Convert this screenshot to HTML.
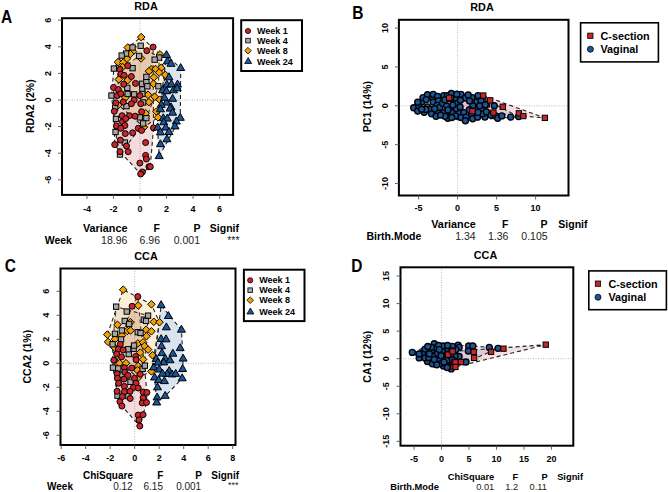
<!DOCTYPE html>
<html><head><meta charset="utf-8"><style>
html,body{margin:0;padding:0;background:#fff;width:668px;height:492px;overflow:hidden}
svg{display:block}
text{font-family:"Liberation Sans", sans-serif}
</style></head><body>
<svg width="668" height="492" viewBox="0 0 668 492">
<rect width="668" height="492" fill="#fff"/>
<line x1="140" y1="18.2" x2="140" y2="194.9" stroke="#aaa" stroke-width="0.8" stroke-dasharray="1,1.5"/>
<line x1="62" y1="100" x2="233.1" y2="100" stroke="#aaa" stroke-width="0.8" stroke-dasharray="1,1.5"/>
<path d="M113.5,87.5L120.0,69.4L146.8,50.7L153.1,47.1L153.5,127.9L150.3,166.7L140.7,174.0L120.0,151.7L114.7,144.6Z" fill="#B8242B" fill-opacity="0.16" stroke="#222" stroke-width="1.1" stroke-dasharray="4,3"/>
<path d="M111.5,95.6L113.9,68.6L121.7,55.6L132.6,47.5L140.7,45.8L159.2,57.6L158.4,86.3L146.4,118.2L143.2,123.5L120.0,154.6L115.6,132.0Z" fill="#9A9A9A" fill-opacity="0.16" stroke="#222" stroke-width="1.1" stroke-dasharray="4,3"/>
<path d="M118.0,62.1L127.7,47.5L141.2,37.1L160.0,54.4L165.3,74.9L158.0,117.4L144.0,127.1L118.4,105.0Z" fill="#F2A100" fill-opacity="0.16" stroke="#222" stroke-width="1.1" stroke-dasharray="4,3"/>
<path d="M157.6,127.7L166.5,55.2L180.7,68.2L180.3,118.0L159.2,156.3Z" fill="#1B5596" fill-opacity="0.16" stroke="#222" stroke-width="1.1" stroke-dasharray="4,3"/>
<path d="M141.2,33.3L145.0,37.1L141.2,40.9L137.4,37.1Z" fill="#F2A100" stroke="#000" stroke-width="1.0"/>
<path d="M127.7,43.7L131.5,47.5L127.7,51.3L123.9,47.5Z" fill="#F2A100" stroke="#000" stroke-width="1.0"/>
<path d="M133.0,47.7L136.8,51.5L133.0,55.3L129.2,51.5Z" fill="#F2A100" stroke="#000" stroke-width="1.0"/>
<path d="M130.2,50.2L134.0,54.0L130.2,57.8L126.4,54.0Z" fill="#F2A100" stroke="#000" stroke-width="1.0"/>
<path d="M126.9,55.0L130.7,58.8L126.9,62.6L123.1,58.8Z" fill="#F2A100" stroke="#000" stroke-width="1.0"/>
<path d="M118.0,58.3L121.8,62.1L118.0,65.9L114.2,62.1Z" fill="#F2A100" stroke="#000" stroke-width="1.0"/>
<path d="M123.3,58.7L127.1,62.5L123.3,66.3L119.5,62.5Z" fill="#F2A100" stroke="#000" stroke-width="1.0"/>
<path d="M141.1,54.6L144.9,58.4L141.1,62.2L137.3,58.4Z" fill="#F2A100" stroke="#000" stroke-width="1.0"/>
<path d="M122.5,63.2L126.3,67.0L122.5,70.8L118.7,67.0Z" fill="#F2A100" stroke="#000" stroke-width="1.0"/>
<path d="M160.0,50.6L163.8,54.4L160.0,58.2L156.2,54.4Z" fill="#F2A100" stroke="#000" stroke-width="1.0"/>
<path d="M161.2,64.0L165.0,67.8L161.2,71.6L157.4,67.8Z" fill="#F2A100" stroke="#000" stroke-width="1.0"/>
<path d="M151.1,65.6L154.9,69.4L151.1,73.2L147.3,69.4Z" fill="#F2A100" stroke="#000" stroke-width="1.0"/>
<path d="M155.6,65.2L159.4,69.0L155.6,72.8L151.8,69.0Z" fill="#F2A100" stroke="#000" stroke-width="1.0"/>
<path d="M118.8,75.6L122.6,79.4L118.8,83.2L115.0,79.4Z" fill="#F2A100" stroke="#000" stroke-width="1.0"/>
<path d="M127.7,76.4L131.5,80.2L127.7,84.0L123.9,80.2Z" fill="#F2A100" stroke="#000" stroke-width="1.0"/>
<path d="M148.9,67.4L152.7,71.2L148.9,75.0L145.1,71.2Z" fill="#F2A100" stroke="#000" stroke-width="1.0"/>
<path d="M148.0,91.0L151.8,94.8L148.0,98.6L144.2,94.8Z" fill="#F2A100" stroke="#000" stroke-width="1.0"/>
<path d="M125.3,93.9L129.1,97.7L125.3,101.5L121.5,97.7Z" fill="#F2A100" stroke="#000" stroke-width="1.0"/>
<path d="M118.4,101.2L122.2,105.0L118.4,108.8L114.6,105.0Z" fill="#F2A100" stroke="#000" stroke-width="1.0"/>
<path d="M148.9,98.3L152.7,102.1L148.9,105.9L145.1,102.1Z" fill="#F2A100" stroke="#000" stroke-width="1.0"/>
<path d="M159.2,68.7L163.0,72.5L159.2,76.3L155.4,72.5Z" fill="#F2A100" stroke="#000" stroke-width="1.0"/>
<path d="M153.9,73.5L157.7,77.3L153.9,81.1L150.1,77.3Z" fill="#F2A100" stroke="#000" stroke-width="1.0"/>
<path d="M165.3,71.1L169.1,74.9L165.3,78.7L161.5,74.9Z" fill="#F2A100" stroke="#000" stroke-width="1.0"/>
<path d="M153.5,80.0L157.3,83.8L153.5,87.6L149.7,83.8Z" fill="#F2A100" stroke="#000" stroke-width="1.0"/>
<path d="M154.7,93.0L158.5,96.8L154.7,100.6L150.9,96.8Z" fill="#F2A100" stroke="#000" stroke-width="1.0"/>
<path d="M159.6,95.9L163.4,99.7L159.6,103.5L155.8,99.7Z" fill="#F2A100" stroke="#000" stroke-width="1.0"/>
<path d="M145.6,109.5L149.4,113.3L145.6,117.1L141.8,113.3Z" fill="#F2A100" stroke="#000" stroke-width="1.0"/>
<path d="M144.0,123.3L147.8,127.1L144.0,130.9L140.2,127.1Z" fill="#F2A100" stroke="#000" stroke-width="1.0"/>
<path d="M156.4,107.9L160.2,111.7L156.4,115.5L152.6,111.7Z" fill="#F2A100" stroke="#000" stroke-width="1.0"/>
<path d="M158.0,113.6L161.8,117.4L158.0,121.2L154.2,117.4Z" fill="#F2A100" stroke="#000" stroke-width="1.0"/>
<rect x="138.0" y="43.1" width="5.316" height="5.316" fill="#A8A8A8" stroke="#000" stroke-width="1.0"/>
<rect x="129.9" y="44.8" width="5.316" height="5.316" fill="#A8A8A8" stroke="#000" stroke-width="1.0"/>
<rect x="123.4" y="50.9" width="5.316" height="5.316" fill="#A8A8A8" stroke="#000" stroke-width="1.0"/>
<rect x="119.0" y="52.9" width="5.316" height="5.316" fill="#A8A8A8" stroke="#000" stroke-width="1.0"/>
<rect x="136.4" y="53.3" width="5.316" height="5.316" fill="#A8A8A8" stroke="#000" stroke-width="1.0"/>
<rect x="111.2" y="65.9" width="5.316" height="5.316" fill="#A8A8A8" stroke="#000" stroke-width="1.0"/>
<rect x="129.9" y="65.5" width="5.316" height="5.316" fill="#A8A8A8" stroke="#000" stroke-width="1.0"/>
<rect x="156.5" y="54.9" width="5.316" height="5.316" fill="#A8A8A8" stroke="#000" stroke-width="1.0"/>
<rect x="152.0" y="57.0" width="5.316" height="5.316" fill="#A8A8A8" stroke="#000" stroke-width="1.0"/>
<rect x="139.3" y="81.1" width="5.316" height="5.316" fill="#A8A8A8" stroke="#000" stroke-width="1.0"/>
<rect x="143.7" y="74.2" width="5.316" height="5.316" fill="#A8A8A8" stroke="#000" stroke-width="1.0"/>
<rect x="143.7" y="79.5" width="5.316" height="5.316" fill="#A8A8A8" stroke="#000" stroke-width="1.0"/>
<rect x="124.6" y="85.2" width="5.316" height="5.316" fill="#A8A8A8" stroke="#000" stroke-width="1.0"/>
<rect x="139.7" y="86.8" width="5.316" height="5.316" fill="#A8A8A8" stroke="#000" stroke-width="1.0"/>
<rect x="108.8" y="92.9" width="5.316" height="5.316" fill="#A8A8A8" stroke="#000" stroke-width="1.0"/>
<rect x="125.0" y="91.3" width="5.316" height="5.316" fill="#A8A8A8" stroke="#000" stroke-width="1.0"/>
<rect x="131.5" y="91.7" width="5.316" height="5.316" fill="#A8A8A8" stroke="#000" stroke-width="1.0"/>
<rect x="139.7" y="91.3" width="5.316" height="5.316" fill="#A8A8A8" stroke="#000" stroke-width="1.0"/>
<rect x="140.5" y="99.8" width="5.316" height="5.316" fill="#A8A8A8" stroke="#000" stroke-width="1.0"/>
<rect x="123.8" y="103.5" width="5.316" height="5.316" fill="#A8A8A8" stroke="#000" stroke-width="1.0"/>
<rect x="155.7" y="83.6" width="5.316" height="5.316" fill="#A8A8A8" stroke="#000" stroke-width="1.0"/>
<rect x="144.7" y="83.6" width="5.316" height="5.316" fill="#A8A8A8" stroke="#000" stroke-width="1.0"/>
<rect x="112.5" y="104.9" width="5.316" height="5.316" fill="#A8A8A8" stroke="#000" stroke-width="1.0"/>
<rect x="137.2" y="114.7" width="5.316" height="5.316" fill="#A8A8A8" stroke="#000" stroke-width="1.0"/>
<rect x="143.7" y="115.5" width="5.316" height="5.316" fill="#A8A8A8" stroke="#000" stroke-width="1.0"/>
<rect x="113.3" y="116.3" width="5.316" height="5.316" fill="#A8A8A8" stroke="#000" stroke-width="1.0"/>
<rect x="112.9" y="129.3" width="5.316" height="5.316" fill="#A8A8A8" stroke="#000" stroke-width="1.0"/>
<rect x="140.5" y="120.8" width="5.316" height="5.316" fill="#A8A8A8" stroke="#000" stroke-width="1.0"/>
<rect x="122.2" y="139.9" width="5.316" height="5.316" fill="#A8A8A8" stroke="#000" stroke-width="1.0"/>
<rect x="117.3" y="151.9" width="5.316" height="5.316" fill="#A8A8A8" stroke="#000" stroke-width="1.0"/>
<circle cx="146.8" cy="50.7" r="3.0" fill="#C8262C" stroke="#000" stroke-width="1.0"/>
<circle cx="127.7" cy="65.7" r="3.0" fill="#C8262C" stroke="#000" stroke-width="1.0"/>
<circle cx="120.0" cy="69.4" r="3.0" fill="#C8262C" stroke="#000" stroke-width="1.0"/>
<circle cx="153.1" cy="47.1" r="3.0" fill="#C8262C" stroke="#000" stroke-width="1.0"/>
<circle cx="120.8" cy="74.1" r="3.0" fill="#C8262C" stroke="#000" stroke-width="1.0"/>
<circle cx="124.1" cy="75.3" r="3.0" fill="#C8262C" stroke="#000" stroke-width="1.0"/>
<circle cx="131.4" cy="76.5" r="3.0" fill="#C8262C" stroke="#000" stroke-width="1.0"/>
<circle cx="135.5" cy="83.4" r="3.0" fill="#C8262C" stroke="#000" stroke-width="1.0"/>
<circle cx="123.7" cy="84.2" r="3.0" fill="#C8262C" stroke="#000" stroke-width="1.0"/>
<circle cx="113.5" cy="87.5" r="3.0" fill="#C8262C" stroke="#000" stroke-width="1.0"/>
<circle cx="118.4" cy="89.5" r="3.0" fill="#C8262C" stroke="#000" stroke-width="1.0"/>
<circle cx="117.2" cy="95.6" r="3.0" fill="#C8262C" stroke="#000" stroke-width="1.0"/>
<circle cx="120.8" cy="93.6" r="3.0" fill="#C8262C" stroke="#000" stroke-width="1.0"/>
<circle cx="139.9" cy="95.6" r="3.0" fill="#C8262C" stroke="#000" stroke-width="1.0"/>
<circle cx="123.3" cy="102.1" r="3.0" fill="#C8262C" stroke="#000" stroke-width="1.0"/>
<circle cx="116.0" cy="102.9" r="3.0" fill="#C8262C" stroke="#000" stroke-width="1.0"/>
<circle cx="134.2" cy="100.1" r="3.0" fill="#C8262C" stroke="#000" stroke-width="1.0"/>
<circle cx="131.4" cy="103.7" r="3.0" fill="#C8262C" stroke="#000" stroke-width="1.0"/>
<circle cx="140.7" cy="103.7" r="3.0" fill="#C8262C" stroke="#000" stroke-width="1.0"/>
<circle cx="114.3" cy="111.3" r="3.0" fill="#C8262C" stroke="#000" stroke-width="1.0"/>
<circle cx="122.1" cy="115.7" r="3.0" fill="#C8262C" stroke="#000" stroke-width="1.0"/>
<circle cx="129.4" cy="115.7" r="3.0" fill="#C8262C" stroke="#000" stroke-width="1.0"/>
<circle cx="135.1" cy="116.2" r="3.0" fill="#C8262C" stroke="#000" stroke-width="1.0"/>
<circle cx="141.6" cy="111.7" r="3.0" fill="#C8262C" stroke="#000" stroke-width="1.0"/>
<circle cx="122.5" cy="121.8" r="3.0" fill="#C8262C" stroke="#000" stroke-width="1.0"/>
<circle cx="125.7" cy="118.6" r="3.0" fill="#C8262C" stroke="#000" stroke-width="1.0"/>
<circle cx="124.9" cy="125.5" r="3.0" fill="#C8262C" stroke="#000" stroke-width="1.0"/>
<circle cx="116.4" cy="125.9" r="3.0" fill="#C8262C" stroke="#000" stroke-width="1.0"/>
<circle cx="120.8" cy="128.3" r="3.0" fill="#C8262C" stroke="#000" stroke-width="1.0"/>
<circle cx="125.3" cy="133.6" r="3.0" fill="#C8262C" stroke="#000" stroke-width="1.0"/>
<circle cx="132.6" cy="132.8" r="3.0" fill="#C8262C" stroke="#000" stroke-width="1.0"/>
<circle cx="138.3" cy="128.3" r="3.0" fill="#C8262C" stroke="#000" stroke-width="1.0"/>
<circle cx="141.6" cy="130.4" r="3.0" fill="#C8262C" stroke="#000" stroke-width="1.0"/>
<circle cx="120.4" cy="140.1" r="3.0" fill="#C8262C" stroke="#000" stroke-width="1.0"/>
<circle cx="114.7" cy="144.6" r="3.0" fill="#C8262C" stroke="#000" stroke-width="1.0"/>
<circle cx="145.6" cy="142.6" r="3.0" fill="#C8262C" stroke="#000" stroke-width="1.0"/>
<circle cx="153.5" cy="127.9" r="3.0" fill="#C8262C" stroke="#000" stroke-width="1.0"/>
<circle cx="126.5" cy="146.0" r="3.0" fill="#C8262C" stroke="#000" stroke-width="1.0"/>
<circle cx="120.0" cy="151.7" r="3.0" fill="#C8262C" stroke="#000" stroke-width="1.0"/>
<circle cx="128.2" cy="151.7" r="3.0" fill="#C8262C" stroke="#000" stroke-width="1.0"/>
<circle cx="145.6" cy="155.4" r="3.0" fill="#C8262C" stroke="#000" stroke-width="1.0"/>
<circle cx="146.4" cy="159.0" r="3.0" fill="#C8262C" stroke="#000" stroke-width="1.0"/>
<circle cx="139.9" cy="163.1" r="3.0" fill="#C8262C" stroke="#000" stroke-width="1.0"/>
<circle cx="148.9" cy="166.7" r="3.0" fill="#C8262C" stroke="#000" stroke-width="1.0"/>
<circle cx="142.4" cy="172.0" r="3.0" fill="#C8262C" stroke="#000" stroke-width="1.0"/>
<circle cx="140.7" cy="174.0" r="3.0" fill="#C8262C" stroke="#000" stroke-width="1.0"/>
<circle cx="150.3" cy="166.7" r="3.0" fill="#C8262C" stroke="#000" stroke-width="1.0"/>
<path d="M166.5,50.6L170.5,57.5L162.5,57.5Z" fill="#1B5596" stroke="#000" stroke-width="1.0"/>
<path d="M167.3,56.9L171.3,63.8L163.3,63.8Z" fill="#1B5596" stroke="#000" stroke-width="1.0"/>
<path d="M171.0,59.4L175.0,66.3L167.0,66.3Z" fill="#1B5596" stroke="#000" stroke-width="1.0"/>
<path d="M180.7,63.6L184.7,70.5L176.7,70.5Z" fill="#1B5596" stroke="#000" stroke-width="1.0"/>
<path d="M169.0,72.8L173.0,79.8L165.0,79.8Z" fill="#1B5596" stroke="#000" stroke-width="1.0"/>
<path d="M166.9,80.2L170.9,87.2L162.9,87.2Z" fill="#1B5596" stroke="#000" stroke-width="1.0"/>
<path d="M171.4,79.8L175.4,86.8L167.4,86.8Z" fill="#1B5596" stroke="#000" stroke-width="1.0"/>
<path d="M177.5,80.1L181.5,87.1L173.5,87.1Z" fill="#1B5596" stroke="#000" stroke-width="1.0"/>
<path d="M162.5,85.8L166.5,92.8L158.5,92.8Z" fill="#1B5596" stroke="#000" stroke-width="1.0"/>
<path d="M166.5,86.8L170.5,93.7L162.5,93.7Z" fill="#1B5596" stroke="#000" stroke-width="1.0"/>
<path d="M173.4,85.8L177.4,92.8L169.4,92.8Z" fill="#1B5596" stroke="#000" stroke-width="1.0"/>
<path d="M177.1,83.8L181.1,90.8L173.1,90.8Z" fill="#1B5596" stroke="#000" stroke-width="1.0"/>
<path d="M172.6,94.3L176.6,101.3L168.6,101.3Z" fill="#1B5596" stroke="#000" stroke-width="1.0"/>
<path d="M166.5,98.1L170.5,105.1L162.5,105.1Z" fill="#1B5596" stroke="#000" stroke-width="1.0"/>
<path d="M161.2,100.4L165.2,107.4L157.2,107.4Z" fill="#1B5596" stroke="#000" stroke-width="1.0"/>
<path d="M171.0,102.8L175.0,109.8L167.0,109.8Z" fill="#1B5596" stroke="#000" stroke-width="1.0"/>
<path d="M164.5,93.3L168.5,100.3L160.5,100.3Z" fill="#1B5596" stroke="#000" stroke-width="1.0"/>
<path d="M160.4,104.8L164.4,111.8L156.4,111.8Z" fill="#1B5596" stroke="#000" stroke-width="1.0"/>
<path d="M170.2,104.1L174.2,111.1L166.2,111.1Z" fill="#1B5596" stroke="#000" stroke-width="1.0"/>
<path d="M172.6,108.2L176.6,115.2L168.6,115.2Z" fill="#1B5596" stroke="#000" stroke-width="1.0"/>
<path d="M180.3,113.3L184.3,120.3L176.3,120.3Z" fill="#1B5596" stroke="#000" stroke-width="1.0"/>
<path d="M163.3,113.8L167.3,120.7L159.3,120.7Z" fill="#1B5596" stroke="#000" stroke-width="1.0"/>
<path d="M167.3,114.1L171.3,121.1L163.3,121.1Z" fill="#1B5596" stroke="#000" stroke-width="1.0"/>
<path d="M176.3,117.0L180.3,124.0L172.3,124.0Z" fill="#1B5596" stroke="#000" stroke-width="1.0"/>
<path d="M163.7,117.8L167.7,124.8L159.7,124.8Z" fill="#1B5596" stroke="#000" stroke-width="1.0"/>
<path d="M157.6,123.0L161.6,130.0L153.6,130.0Z" fill="#1B5596" stroke="#000" stroke-width="1.0"/>
<path d="M165.7,123.1L169.7,130.1L161.7,130.1Z" fill="#1B5596" stroke="#000" stroke-width="1.0"/>
<path d="M175.0,121.9L179.0,128.9L171.0,128.9Z" fill="#1B5596" stroke="#000" stroke-width="1.0"/>
<path d="M160.4,127.9L164.4,134.9L156.4,134.9Z" fill="#1B5596" stroke="#000" stroke-width="1.0"/>
<path d="M169.0,127.5L173.0,134.5L165.0,134.5Z" fill="#1B5596" stroke="#000" stroke-width="1.0"/>
<path d="M166.9,134.8L170.9,141.8L162.9,141.8Z" fill="#1B5596" stroke="#000" stroke-width="1.0"/>
<path d="M160.4,139.8L164.4,146.7L156.4,146.7Z" fill="#1B5596" stroke="#000" stroke-width="1.0"/>
<path d="M159.2,151.7L163.2,158.6L155.2,158.6Z" fill="#1B5596" stroke="#000" stroke-width="1.0"/>
<rect x="62" y="18.2" width="171.1" height="176.70000000000002" fill="none" stroke="#000" stroke-width="2"/>
<line x1="86.92" y1="194.9" x2="86.92" y2="198.9" stroke="#555" stroke-width="0.9"/>
<text x="86.92" y="211.5" font-size="9" font-weight="bold" text-anchor="middle" fill="#000" >-4</text>
<line x1="113.46000000000001" y1="194.9" x2="113.46000000000001" y2="198.9" stroke="#555" stroke-width="0.9"/>
<text x="113.46000000000001" y="211.5" font-size="9" font-weight="bold" text-anchor="middle" fill="#000" >-2</text>
<line x1="140.0" y1="194.9" x2="140.0" y2="198.9" stroke="#555" stroke-width="0.9"/>
<text x="140.0" y="211.5" font-size="9" font-weight="bold" text-anchor="middle" fill="#000" >0</text>
<line x1="166.54" y1="194.9" x2="166.54" y2="198.9" stroke="#555" stroke-width="0.9"/>
<text x="166.54" y="211.5" font-size="9" font-weight="bold" text-anchor="middle" fill="#000" >2</text>
<line x1="193.07999999999998" y1="194.9" x2="193.07999999999998" y2="198.9" stroke="#555" stroke-width="0.9"/>
<text x="193.07999999999998" y="211.5" font-size="9" font-weight="bold" text-anchor="middle" fill="#000" >4</text>
<line x1="219.62" y1="194.9" x2="219.62" y2="198.9" stroke="#555" stroke-width="0.9"/>
<text x="219.62" y="211.5" font-size="9" font-weight="bold" text-anchor="middle" fill="#000" >6</text>
<line x1="58" y1="179.8" x2="62" y2="179.8" stroke="#555" stroke-width="0.9"/>
<text transform="translate(50.5,179.80) rotate(-90) scale(1,1.1)" font-size="9" font-weight="bold" text-anchor="middle">-6</text>
<line x1="58" y1="153.2" x2="62" y2="153.2" stroke="#555" stroke-width="0.9"/>
<text transform="translate(50.5,153.20) rotate(-90) scale(1,1.1)" font-size="9" font-weight="bold" text-anchor="middle">-4</text>
<line x1="58" y1="126.6" x2="62" y2="126.6" stroke="#555" stroke-width="0.9"/>
<text transform="translate(50.5,126.60) rotate(-90) scale(1,1.1)" font-size="9" font-weight="bold" text-anchor="middle">-2</text>
<line x1="58" y1="100.0" x2="62" y2="100.0" stroke="#555" stroke-width="0.9"/>
<text transform="translate(50.5,100.00) rotate(-90) scale(1,1.1)" font-size="9" font-weight="bold" text-anchor="middle">0</text>
<line x1="58" y1="73.4" x2="62" y2="73.4" stroke="#555" stroke-width="0.9"/>
<text transform="translate(50.5,73.40) rotate(-90) scale(1,1.1)" font-size="9" font-weight="bold" text-anchor="middle">2</text>
<line x1="58" y1="46.8" x2="62" y2="46.8" stroke="#555" stroke-width="0.9"/>
<text transform="translate(50.5,46.80) rotate(-90) scale(1,1.1)" font-size="9" font-weight="bold" text-anchor="middle">4</text>
<line x1="58" y1="20.19999999999999" x2="62" y2="20.19999999999999" stroke="#555" stroke-width="0.9"/>
<text transform="translate(50.5,20.20) rotate(-90) scale(1,1.1)" font-size="9" font-weight="bold" text-anchor="middle">6</text>
<text x="146" y="10.0" font-size="10.8" font-weight="bold" text-anchor="middle" fill="#000" >RDA</text>
<text transform="translate(33.5,106.2) rotate(-90)" font-size="10.5" font-weight="bold" text-anchor="middle" fill="#000" >RDA2 (2%)</text>
<text transform="translate(1.0,23.2) scale(0.86,1)" font-size="18" font-weight="bold">A</text>
<line x1="457.6" y1="19.8" x2="457.6" y2="195.5" stroke="#aaa" stroke-width="0.8" stroke-dasharray="1,1.5"/>
<line x1="398.9" y1="105.8" x2="568.5" y2="105.8" stroke="#aaa" stroke-width="0.8" stroke-dasharray="1,1.5"/>
<path d="M448.2,99.2L452.6,98.4L483.3,95.6L544.9,117.9L523.4,116.1L449.8,109.0Z" fill="#B8242B" fill-opacity="0.14" stroke="#222" stroke-width="1.1" stroke-dasharray="4,3"/>
<path d="M413.7,107.7L417.7,102.2L423.0,97.6L427.5,94.7L433.2,94.3L451.4,93.5L478.0,95.6L518.6,116.6L497.7,118.3L465.4,120.7L447.8,118.3L436.0,116.3L417.7,111.0Z" fill="#6A4C8C" fill-opacity="0.15" stroke="#222" stroke-width="1.1" stroke-dasharray="4,3"/>
<rect x="445.5" y="96.5" width="5.316" height="5.316" fill="#C8262C" stroke="#000" stroke-width="1.0"/>
<rect x="447.1" y="106.3" width="5.316" height="5.316" fill="#C8262C" stroke="#000" stroke-width="1.0"/>
<rect x="449.9" y="95.7" width="5.316" height="5.316" fill="#C8262C" stroke="#000" stroke-width="1.0"/>
<rect x="480.6" y="96.9" width="5.316" height="5.316" fill="#C8262C" stroke="#000" stroke-width="1.0"/>
<rect x="484.3" y="101.8" width="5.316" height="5.316" fill="#C8262C" stroke="#000" stroke-width="1.0"/>
<rect x="448.9" y="96.1" width="5.316" height="5.316" fill="#C8262C" stroke="#000" stroke-width="1.0"/>
<rect x="448.5" y="105.9" width="5.316" height="5.316" fill="#C8262C" stroke="#000" stroke-width="1.0"/>
<rect x="477.3" y="103.0" width="5.316" height="5.316" fill="#C8262C" stroke="#000" stroke-width="1.0"/>
<circle cx="413.7" cy="107.7" r="3.0" fill="#1B5596" stroke="#000" stroke-width="1.35"/>
<circle cx="417.7" cy="111.0" r="3.0" fill="#1B5596" stroke="#000" stroke-width="1.35"/>
<circle cx="421.8" cy="102.1" r="3.0" fill="#1B5596" stroke="#000" stroke-width="1.35"/>
<circle cx="423.0" cy="97.6" r="3.0" fill="#1B5596" stroke="#000" stroke-width="1.35"/>
<circle cx="424.2" cy="112.2" r="3.0" fill="#1B5596" stroke="#000" stroke-width="1.35"/>
<circle cx="427.5" cy="94.7" r="3.0" fill="#1B5596" stroke="#000" stroke-width="1.35"/>
<circle cx="427.5" cy="106.9" r="3.0" fill="#1B5596" stroke="#000" stroke-width="1.35"/>
<circle cx="430.3" cy="109.4" r="3.0" fill="#1B5596" stroke="#000" stroke-width="1.35"/>
<circle cx="432.7" cy="97.2" r="3.0" fill="#1B5596" stroke="#000" stroke-width="1.35"/>
<circle cx="433.2" cy="102.1" r="3.0" fill="#1B5596" stroke="#000" stroke-width="1.35"/>
<circle cx="433.2" cy="94.3" r="3.0" fill="#1B5596" stroke="#000" stroke-width="1.35"/>
<circle cx="431.5" cy="113.8" r="3.0" fill="#1B5596" stroke="#000" stroke-width="1.35"/>
<circle cx="437.6" cy="96.4" r="3.0" fill="#1B5596" stroke="#000" stroke-width="1.35"/>
<circle cx="438.4" cy="100.8" r="3.0" fill="#1B5596" stroke="#000" stroke-width="1.35"/>
<circle cx="437.2" cy="105.3" r="3.0" fill="#1B5596" stroke="#000" stroke-width="1.35"/>
<circle cx="438.0" cy="111.8" r="3.0" fill="#1B5596" stroke="#000" stroke-width="1.35"/>
<circle cx="439.7" cy="107.3" r="3.0" fill="#1B5596" stroke="#000" stroke-width="1.35"/>
<circle cx="442.5" cy="103.3" r="3.0" fill="#1B5596" stroke="#000" stroke-width="1.35"/>
<circle cx="443.7" cy="95.6" r="3.0" fill="#1B5596" stroke="#000" stroke-width="1.35"/>
<circle cx="444.1" cy="112.6" r="3.0" fill="#1B5596" stroke="#000" stroke-width="1.35"/>
<circle cx="446.6" cy="106.1" r="3.0" fill="#1B5596" stroke="#000" stroke-width="1.35"/>
<circle cx="447.4" cy="95.6" r="3.0" fill="#1B5596" stroke="#000" stroke-width="1.35"/>
<circle cx="451.4" cy="93.5" r="3.0" fill="#1B5596" stroke="#000" stroke-width="1.35"/>
<circle cx="451.0" cy="112.6" r="3.0" fill="#1B5596" stroke="#000" stroke-width="1.35"/>
<circle cx="447.8" cy="118.3" r="3.0" fill="#1B5596" stroke="#000" stroke-width="1.35"/>
<circle cx="444.9" cy="116.3" r="3.0" fill="#1B5596" stroke="#000" stroke-width="1.35"/>
<circle cx="436.0" cy="116.3" r="3.0" fill="#1B5596" stroke="#000" stroke-width="1.35"/>
<circle cx="426.2" cy="99.6" r="3.0" fill="#1B5596" stroke="#000" stroke-width="1.35"/>
<circle cx="425.8" cy="109.4" r="3.0" fill="#1B5596" stroke="#000" stroke-width="1.35"/>
<circle cx="418.9" cy="106.1" r="3.0" fill="#1B5596" stroke="#000" stroke-width="1.35"/>
<circle cx="452.2" cy="109.4" r="3.0" fill="#1B5596" stroke="#000" stroke-width="1.35"/>
<circle cx="461.0" cy="94.3" r="3.0" fill="#1B5596" stroke="#000" stroke-width="1.35"/>
<circle cx="465.4" cy="98.0" r="3.0" fill="#1B5596" stroke="#000" stroke-width="1.35"/>
<circle cx="471.9" cy="97.6" r="3.0" fill="#1B5596" stroke="#000" stroke-width="1.35"/>
<circle cx="478.0" cy="95.6" r="3.0" fill="#1B5596" stroke="#000" stroke-width="1.35"/>
<circle cx="456.5" cy="102.9" r="3.0" fill="#1B5596" stroke="#000" stroke-width="1.35"/>
<circle cx="476.8" cy="102.1" r="3.0" fill="#1B5596" stroke="#000" stroke-width="1.35"/>
<circle cx="476.0" cy="108.2" r="3.0" fill="#1B5596" stroke="#000" stroke-width="1.35"/>
<circle cx="481.7" cy="109.4" r="3.0" fill="#1B5596" stroke="#000" stroke-width="1.35"/>
<circle cx="452.8" cy="112.6" r="3.0" fill="#1B5596" stroke="#000" stroke-width="1.35"/>
<circle cx="458.9" cy="113.0" r="3.0" fill="#1B5596" stroke="#000" stroke-width="1.35"/>
<circle cx="463.8" cy="112.6" r="3.0" fill="#1B5596" stroke="#000" stroke-width="1.35"/>
<circle cx="471.5" cy="114.2" r="3.0" fill="#1B5596" stroke="#000" stroke-width="1.35"/>
<circle cx="461.0" cy="117.5" r="3.0" fill="#1B5596" stroke="#000" stroke-width="1.35"/>
<circle cx="466.2" cy="117.1" r="3.0" fill="#1B5596" stroke="#000" stroke-width="1.35"/>
<circle cx="465.4" cy="120.7" r="3.0" fill="#1B5596" stroke="#000" stroke-width="1.35"/>
<circle cx="472.7" cy="118.7" r="3.0" fill="#1B5596" stroke="#000" stroke-width="1.35"/>
<circle cx="477.6" cy="117.1" r="3.0" fill="#1B5596" stroke="#000" stroke-width="1.35"/>
<circle cx="484.9" cy="117.1" r="3.0" fill="#1B5596" stroke="#000" stroke-width="1.35"/>
<circle cx="489.8" cy="114.2" r="3.0" fill="#1B5596" stroke="#000" stroke-width="1.35"/>
<circle cx="494.3" cy="105.7" r="3.0" fill="#1B5596" stroke="#000" stroke-width="1.35"/>
<circle cx="456.1" cy="108.6" r="3.0" fill="#1B5596" stroke="#000" stroke-width="1.35"/>
<circle cx="454.9" cy="98.0" r="3.0" fill="#1B5596" stroke="#000" stroke-width="1.35"/>
<circle cx="490.8" cy="115.0" r="3.0" fill="#1B5596" stroke="#000" stroke-width="1.35"/>
<circle cx="495.7" cy="115.9" r="3.0" fill="#1B5596" stroke="#000" stroke-width="1.35"/>
<circle cx="497.7" cy="118.3" r="3.0" fill="#1B5596" stroke="#000" stroke-width="1.35"/>
<circle cx="501.8" cy="115.9" r="3.0" fill="#1B5596" stroke="#000" stroke-width="1.35"/>
<circle cx="510.7" cy="117.1" r="3.0" fill="#1B5596" stroke="#000" stroke-width="1.35"/>
<circle cx="518.6" cy="116.6" r="3.0" fill="#1B5596" stroke="#000" stroke-width="1.35"/>
<circle cx="481.1" cy="100.9" r="3.0" fill="#1B5596" stroke="#000" stroke-width="1.35"/>
<circle cx="455.4" cy="115.8" r="3.0" fill="#1B5596" stroke="#000" stroke-width="1.35"/>
<circle cx="460.4" cy="100.2" r="3.0" fill="#1B5596" stroke="#000" stroke-width="1.35"/>
<circle cx="482.3" cy="113.8" r="3.0" fill="#1B5596" stroke="#000" stroke-width="1.35"/>
<circle cx="456.8" cy="94.2" r="3.0" fill="#1B5596" stroke="#000" stroke-width="1.35"/>
<circle cx="478.0" cy="112.4" r="3.0" fill="#1B5596" stroke="#000" stroke-width="1.35"/>
<circle cx="479.7" cy="105.7" r="3.0" fill="#1B5596" stroke="#000" stroke-width="1.35"/>
<circle cx="472.8" cy="105.7" r="3.0" fill="#1B5596" stroke="#000" stroke-width="1.35"/>
<circle cx="485.3" cy="104.8" r="3.0" fill="#1B5596" stroke="#000" stroke-width="1.35"/>
<circle cx="451.8" cy="117.5" r="3.0" fill="#1B5596" stroke="#000" stroke-width="1.35"/>
<circle cx="469.4" cy="109.7" r="3.0" fill="#1B5596" stroke="#000" stroke-width="1.35"/>
<circle cx="460.1" cy="107.0" r="3.0" fill="#1B5596" stroke="#000" stroke-width="1.35"/>
<circle cx="486.3" cy="111.7" r="3.0" fill="#1B5596" stroke="#000" stroke-width="1.35"/>
<circle cx="444.8" cy="99.9" r="3.0" fill="#1B5596" stroke="#000" stroke-width="1.35"/>
<circle cx="434.6" cy="108.8" r="3.0" fill="#1B5596" stroke="#000" stroke-width="1.35"/>
<circle cx="440.5" cy="115.0" r="3.0" fill="#1B5596" stroke="#000" stroke-width="1.35"/>
<circle cx="469.5" cy="100.9" r="3.0" fill="#1B5596" stroke="#000" stroke-width="1.35"/>
<circle cx="452.8" cy="105.1" r="3.0" fill="#1B5596" stroke="#000" stroke-width="1.35"/>
<circle cx="417.7" cy="102.2" r="3.0" fill="#1B5596" stroke="#000" stroke-width="1.35"/>
<circle cx="447.9" cy="109.9" r="3.0" fill="#1B5596" stroke="#000" stroke-width="1.35"/>
<circle cx="450.8" cy="98.1" r="3.0" fill="#1B5596" stroke="#000" stroke-width="1.35"/>
<circle cx="421.6" cy="109.2" r="3.0" fill="#1B5596" stroke="#000" stroke-width="1.35"/>
<circle cx="468.2" cy="95.0" r="3.0" fill="#1B5596" stroke="#000" stroke-width="1.35"/>
<rect x="480.6" y="92.9" width="5.316" height="5.316" fill="#C8262C" stroke="#000" stroke-width="1.0"/>
<rect x="487.5" y="97.7" width="5.316" height="5.316" fill="#C8262C" stroke="#000" stroke-width="1.0"/>
<rect x="490.8" y="109.9" width="5.316" height="5.316" fill="#C8262C" stroke="#000" stroke-width="1.0"/>
<rect x="500.1" y="104.1" width="5.316" height="5.316" fill="#C8262C" stroke="#000" stroke-width="1.0"/>
<rect x="516.2" y="110.7" width="5.316" height="5.316" fill="#C8262C" stroke="#000" stroke-width="1.0"/>
<rect x="520.7" y="113.4" width="5.316" height="5.316" fill="#C8262C" stroke="#000" stroke-width="1.0"/>
<rect x="542.2" y="115.2" width="5.316" height="5.316" fill="#C8262C" stroke="#000" stroke-width="1.0"/>
<rect x="446.5" y="95.1" width="5.316" height="5.316" fill="#C8262C" stroke="#000" stroke-width="1.0"/>
<rect x="469.8" y="108.5" width="5.316" height="5.316" fill="#C8262C" stroke="#000" stroke-width="1.0"/>
<rect x="398.9" y="19.8" width="169.60000000000002" height="175.7" fill="none" stroke="#000" stroke-width="2"/>
<line x1="418.6" y1="195.5" x2="418.6" y2="199.5" stroke="#555" stroke-width="0.9"/>
<text x="418.6" y="211.2" font-size="9" font-weight="bold" text-anchor="middle" fill="#000" >-5</text>
<line x1="457.6" y1="195.5" x2="457.6" y2="199.5" stroke="#555" stroke-width="0.9"/>
<text x="457.6" y="211.2" font-size="9" font-weight="bold" text-anchor="middle" fill="#000" >0</text>
<line x1="496.6" y1="195.5" x2="496.6" y2="199.5" stroke="#555" stroke-width="0.9"/>
<text x="496.6" y="211.2" font-size="9" font-weight="bold" text-anchor="middle" fill="#000" >5</text>
<line x1="535.6" y1="195.5" x2="535.6" y2="199.5" stroke="#555" stroke-width="0.9"/>
<text x="535.6" y="211.2" font-size="9" font-weight="bold" text-anchor="middle" fill="#000" >10</text>
<line x1="394.9" y1="183.5" x2="398.9" y2="183.5" stroke="#555" stroke-width="0.9"/>
<text transform="translate(388,183.50) rotate(-90) scale(1,1.1)" font-size="9" font-weight="bold" text-anchor="middle">-10</text>
<line x1="394.9" y1="144.64999999999998" x2="398.9" y2="144.64999999999998" stroke="#555" stroke-width="0.9"/>
<text transform="translate(388,144.65) rotate(-90) scale(1,1.1)" font-size="9" font-weight="bold" text-anchor="middle">-5</text>
<line x1="394.9" y1="105.8" x2="398.9" y2="105.8" stroke="#555" stroke-width="0.9"/>
<text transform="translate(388,105.80) rotate(-90) scale(1,1.1)" font-size="9" font-weight="bold" text-anchor="middle">0</text>
<line x1="394.9" y1="66.95" x2="398.9" y2="66.95" stroke="#555" stroke-width="0.9"/>
<text transform="translate(388,66.95) rotate(-90) scale(1,1.1)" font-size="9" font-weight="bold" text-anchor="middle">5</text>
<line x1="394.9" y1="28.10000000000001" x2="398.9" y2="28.10000000000001" stroke="#555" stroke-width="0.9"/>
<text transform="translate(388,28.10) rotate(-90) scale(1,1.1)" font-size="9" font-weight="bold" text-anchor="middle">10</text>
<text x="482" y="10.5" font-size="10.8" font-weight="bold" text-anchor="middle" fill="#000" >RDA</text>
<text transform="translate(371,106.7) rotate(-90)" font-size="10.5" font-weight="bold" text-anchor="middle" fill="#000" >PC1 (14%)</text>
<text transform="translate(352.2,19.2) scale(0.86,1)" font-size="18" font-weight="bold">B</text>
<line x1="134.7" y1="268.5" x2="134.7" y2="445" stroke="#aaa" stroke-width="0.8" stroke-dasharray="1,1.5"/>
<line x1="60.5" y1="363.3" x2="235.5" y2="363.3" stroke="#aaa" stroke-width="0.8" stroke-dasharray="1,1.5"/>
<path d="M113.8,360.2L132.1,306.3L137.8,296.6L146.9,392.5L146.5,402.5L143.1,414.7L139.8,426.0L121.9,406.1L119.9,401.7L117.1,391.3Z" fill="#B8242B" fill-opacity="0.16" stroke="#222" stroke-width="1.1" stroke-dasharray="4,3"/>
<path d="M112.6,344.3L116.2,306.7L148.1,315.7L144.9,365.7L128.4,396.2L117.5,395.7L113.0,367.7Z" fill="#9A9A9A" fill-opacity="0.16" stroke="#222" stroke-width="1.1" stroke-dasharray="4,3"/>
<path d="M107.3,334.6L123.2,289.7L151.4,304.3L159.5,322.2L151.4,371.4L138.2,377.5L119.5,363.2L108.1,341.9Z" fill="#F2A100" fill-opacity="0.16" stroke="#222" stroke-width="1.1" stroke-dasharray="4,3"/>
<path d="M153.8,367.5L161.1,305.3L181.4,329.9L183.1,358.8L182.2,378.5L165.2,396.0L156.7,402.7L154.6,377.7Z" fill="#1B5596" fill-opacity="0.16" stroke="#222" stroke-width="1.1" stroke-dasharray="4,3"/>
<path d="M123.2,285.9L127.0,289.7L123.2,293.5L119.4,289.7Z" fill="#F2A100" stroke="#000" stroke-width="1.0"/>
<path d="M138.2,301.7L142.0,305.5L138.2,309.3L134.4,305.5Z" fill="#F2A100" stroke="#000" stroke-width="1.0"/>
<path d="M130.5,318.4L134.3,322.2L130.5,326.0L126.7,322.2Z" fill="#F2A100" stroke="#000" stroke-width="1.0"/>
<path d="M151.4,300.5L155.2,304.3L151.4,308.1L147.6,304.3Z" fill="#F2A100" stroke="#000" stroke-width="1.0"/>
<path d="M153.8,318.0L157.6,321.8L153.8,325.6L150.0,321.8Z" fill="#F2A100" stroke="#000" stroke-width="1.0"/>
<path d="M159.5,318.4L163.3,322.2L159.5,326.0L155.7,322.2Z" fill="#F2A100" stroke="#000" stroke-width="1.0"/>
<path d="M117.5,321.0L121.3,324.8L117.5,328.6L113.7,324.8Z" fill="#F2A100" stroke="#000" stroke-width="1.0"/>
<path d="M127.2,327.1L131.0,330.9L127.2,334.7L123.4,330.9Z" fill="#F2A100" stroke="#000" stroke-width="1.0"/>
<path d="M130.5,326.7L134.3,330.5L130.5,334.3L126.7,330.5Z" fill="#F2A100" stroke="#000" stroke-width="1.0"/>
<path d="M107.3,330.8L111.1,334.6L107.3,338.4L103.5,334.6Z" fill="#F2A100" stroke="#000" stroke-width="1.0"/>
<path d="M121.9,331.6L125.7,335.4L121.9,339.2L118.1,335.4Z" fill="#F2A100" stroke="#000" stroke-width="1.0"/>
<path d="M115.0,335.3L118.8,339.1L115.0,342.9L111.2,339.1Z" fill="#F2A100" stroke="#000" stroke-width="1.0"/>
<path d="M108.1,338.1L111.9,341.9L108.1,345.7L104.3,341.9Z" fill="#F2A100" stroke="#000" stroke-width="1.0"/>
<path d="M114.6,343.8L118.4,347.6L114.6,351.4L110.8,347.6Z" fill="#F2A100" stroke="#000" stroke-width="1.0"/>
<path d="M137.8,339.7L141.6,343.5L137.8,347.3L134.0,343.5Z" fill="#F2A100" stroke="#000" stroke-width="1.0"/>
<path d="M140.2,348.7L144.0,352.5L140.2,356.3L136.4,352.5Z" fill="#F2A100" stroke="#000" stroke-width="1.0"/>
<path d="M143.1,338.5L146.9,342.3L143.1,346.1L139.3,342.3Z" fill="#F2A100" stroke="#000" stroke-width="1.0"/>
<path d="M143.1,355.6L146.9,359.4L143.1,363.2L139.3,359.4Z" fill="#F2A100" stroke="#000" stroke-width="1.0"/>
<path d="M146.1,325.9L149.9,329.7L146.1,333.5L142.3,329.7Z" fill="#F2A100" stroke="#000" stroke-width="1.0"/>
<path d="M151.4,327.5L155.2,331.3L151.4,335.1L147.6,331.3Z" fill="#F2A100" stroke="#000" stroke-width="1.0"/>
<path d="M146.5,332.4L150.3,336.2L146.5,340.0L142.7,336.2Z" fill="#F2A100" stroke="#000" stroke-width="1.0"/>
<path d="M144.5,342.2L148.3,346.0L144.5,349.8L140.7,346.0Z" fill="#F2A100" stroke="#000" stroke-width="1.0"/>
<path d="M148.1,345.8L151.9,349.6L148.1,353.4L144.3,349.6Z" fill="#F2A100" stroke="#000" stroke-width="1.0"/>
<path d="M152.6,351.5L156.4,355.3L152.6,359.1L148.8,355.3Z" fill="#F2A100" stroke="#000" stroke-width="1.0"/>
<path d="M119.5,359.4L123.3,363.2L119.5,367.0L115.7,363.2Z" fill="#F2A100" stroke="#000" stroke-width="1.0"/>
<path d="M126.0,359.4L129.8,363.2L126.0,367.0L122.2,363.2Z" fill="#F2A100" stroke="#000" stroke-width="1.0"/>
<path d="M138.2,362.3L142.0,366.1L138.2,369.9L134.4,366.1Z" fill="#F2A100" stroke="#000" stroke-width="1.0"/>
<path d="M137.4,366.4L141.2,370.2L137.4,374.0L133.6,370.2Z" fill="#F2A100" stroke="#000" stroke-width="1.0"/>
<path d="M138.2,373.7L142.0,377.5L138.2,381.3L134.4,377.5Z" fill="#F2A100" stroke="#000" stroke-width="1.0"/>
<path d="M151.4,367.6L155.2,371.4L151.4,375.2L147.6,371.4Z" fill="#F2A100" stroke="#000" stroke-width="1.0"/>
<rect x="113.5" y="304.0" width="5.316" height="5.316" fill="#A8A8A8" stroke="#000" stroke-width="1.0"/>
<rect x="124.1" y="308.9" width="5.316" height="5.316" fill="#A8A8A8" stroke="#000" stroke-width="1.0"/>
<rect x="122.1" y="318.3" width="5.316" height="5.316" fill="#A8A8A8" stroke="#000" stroke-width="1.0"/>
<rect x="141.2" y="317.0" width="5.316" height="5.316" fill="#A8A8A8" stroke="#000" stroke-width="1.0"/>
<rect x="145.4" y="313.0" width="5.316" height="5.316" fill="#A8A8A8" stroke="#000" stroke-width="1.0"/>
<rect x="143.4" y="318.3" width="5.316" height="5.316" fill="#A8A8A8" stroke="#000" stroke-width="1.0"/>
<rect x="126.5" y="321.3" width="5.316" height="5.316" fill="#A8A8A8" stroke="#000" stroke-width="1.0"/>
<rect x="119.2" y="327.8" width="5.316" height="5.316" fill="#A8A8A8" stroke="#000" stroke-width="1.0"/>
<rect x="112.3" y="331.1" width="5.316" height="5.316" fill="#A8A8A8" stroke="#000" stroke-width="1.0"/>
<rect x="135.1" y="329.5" width="5.316" height="5.316" fill="#A8A8A8" stroke="#000" stroke-width="1.0"/>
<rect x="137.9" y="330.3" width="5.316" height="5.316" fill="#A8A8A8" stroke="#000" stroke-width="1.0"/>
<rect x="118.4" y="336.8" width="5.316" height="5.316" fill="#A8A8A8" stroke="#000" stroke-width="1.0"/>
<rect x="109.9" y="341.6" width="5.316" height="5.316" fill="#A8A8A8" stroke="#000" stroke-width="1.0"/>
<rect x="131.0" y="346.1" width="5.316" height="5.316" fill="#A8A8A8" stroke="#000" stroke-width="1.0"/>
<rect x="126.1" y="351.4" width="5.316" height="5.316" fill="#A8A8A8" stroke="#000" stroke-width="1.0"/>
<rect x="131.4" y="342.9" width="5.316" height="5.316" fill="#A8A8A8" stroke="#000" stroke-width="1.0"/>
<rect x="110.3" y="365.0" width="5.316" height="5.316" fill="#A8A8A8" stroke="#000" stroke-width="1.0"/>
<rect x="115.6" y="365.8" width="5.316" height="5.316" fill="#A8A8A8" stroke="#000" stroke-width="1.0"/>
<rect x="139.9" y="366.2" width="5.316" height="5.316" fill="#A8A8A8" stroke="#000" stroke-width="1.0"/>
<rect x="119.6" y="372.3" width="5.316" height="5.316" fill="#A8A8A8" stroke="#000" stroke-width="1.0"/>
<rect x="127.8" y="379.2" width="5.316" height="5.316" fill="#A8A8A8" stroke="#000" stroke-width="1.0"/>
<rect x="114.8" y="393.0" width="5.316" height="5.316" fill="#A8A8A8" stroke="#000" stroke-width="1.0"/>
<rect x="125.7" y="393.5" width="5.316" height="5.316" fill="#A8A8A8" stroke="#000" stroke-width="1.0"/>
<rect x="142.2" y="363.0" width="5.316" height="5.316" fill="#A8A8A8" stroke="#000" stroke-width="1.0"/>
<rect x="125.5" y="346.6" width="5.316" height="5.316" fill="#A8A8A8" stroke="#000" stroke-width="1.0"/>
<circle cx="137.8" cy="296.6" r="3.0" fill="#C8262C" stroke="#000" stroke-width="1.0"/>
<circle cx="132.1" cy="306.3" r="3.0" fill="#C8262C" stroke="#000" stroke-width="1.0"/>
<circle cx="120.3" cy="344.3" r="3.0" fill="#C8262C" stroke="#000" stroke-width="1.0"/>
<circle cx="118.3" cy="349.2" r="3.0" fill="#C8262C" stroke="#000" stroke-width="1.0"/>
<circle cx="123.2" cy="350.0" r="3.0" fill="#C8262C" stroke="#000" stroke-width="1.0"/>
<circle cx="116.7" cy="354.1" r="3.0" fill="#C8262C" stroke="#000" stroke-width="1.0"/>
<circle cx="121.5" cy="356.9" r="3.0" fill="#C8262C" stroke="#000" stroke-width="1.0"/>
<circle cx="113.8" cy="360.2" r="3.0" fill="#C8262C" stroke="#000" stroke-width="1.0"/>
<circle cx="135.7" cy="356.5" r="3.0" fill="#C8262C" stroke="#000" stroke-width="1.0"/>
<circle cx="136.1" cy="359.8" r="3.0" fill="#C8262C" stroke="#000" stroke-width="1.0"/>
<circle cx="124.4" cy="367.7" r="3.0" fill="#C8262C" stroke="#000" stroke-width="1.0"/>
<circle cx="131.7" cy="368.1" r="3.0" fill="#C8262C" stroke="#000" stroke-width="1.0"/>
<circle cx="124.8" cy="372.2" r="3.0" fill="#C8262C" stroke="#000" stroke-width="1.0"/>
<circle cx="117.1" cy="373.8" r="3.0" fill="#C8262C" stroke="#000" stroke-width="1.0"/>
<circle cx="128.0" cy="375.4" r="3.0" fill="#C8262C" stroke="#000" stroke-width="1.0"/>
<circle cx="140.2" cy="374.2" r="3.0" fill="#C8262C" stroke="#000" stroke-width="1.0"/>
<circle cx="134.5" cy="378.3" r="3.0" fill="#C8262C" stroke="#000" stroke-width="1.0"/>
<circle cx="117.5" cy="378.3" r="3.0" fill="#C8262C" stroke="#000" stroke-width="1.0"/>
<circle cx="124.0" cy="379.1" r="3.0" fill="#C8262C" stroke="#000" stroke-width="1.0"/>
<circle cx="118.7" cy="383.2" r="3.0" fill="#C8262C" stroke="#000" stroke-width="1.0"/>
<circle cx="136.1" cy="383.2" r="3.0" fill="#C8262C" stroke="#000" stroke-width="1.0"/>
<circle cx="124.4" cy="386.4" r="3.0" fill="#C8262C" stroke="#000" stroke-width="1.0"/>
<circle cx="133.3" cy="387.6" r="3.0" fill="#C8262C" stroke="#000" stroke-width="1.0"/>
<circle cx="138.2" cy="388.0" r="3.0" fill="#C8262C" stroke="#000" stroke-width="1.0"/>
<circle cx="117.1" cy="391.3" r="3.0" fill="#C8262C" stroke="#000" stroke-width="1.0"/>
<circle cx="124.4" cy="391.7" r="3.0" fill="#C8262C" stroke="#000" stroke-width="1.0"/>
<circle cx="130.1" cy="391.3" r="3.0" fill="#C8262C" stroke="#000" stroke-width="1.0"/>
<circle cx="143.1" cy="392.1" r="3.0" fill="#C8262C" stroke="#000" stroke-width="1.0"/>
<circle cx="122.3" cy="396.6" r="3.0" fill="#C8262C" stroke="#000" stroke-width="1.0"/>
<circle cx="143.1" cy="397.8" r="3.0" fill="#C8262C" stroke="#000" stroke-width="1.0"/>
<circle cx="146.9" cy="392.5" r="3.0" fill="#C8262C" stroke="#000" stroke-width="1.0"/>
<circle cx="119.9" cy="401.7" r="3.0" fill="#C8262C" stroke="#000" stroke-width="1.0"/>
<circle cx="121.9" cy="406.1" r="3.0" fill="#C8262C" stroke="#000" stroke-width="1.0"/>
<circle cx="130.2" cy="398.5" r="3.0" fill="#C8262C" stroke="#000" stroke-width="1.0"/>
<circle cx="142.2" cy="402.9" r="3.0" fill="#C8262C" stroke="#000" stroke-width="1.0"/>
<circle cx="138.2" cy="415.1" r="3.0" fill="#C8262C" stroke="#000" stroke-width="1.0"/>
<circle cx="143.1" cy="414.7" r="3.0" fill="#C8262C" stroke="#000" stroke-width="1.0"/>
<circle cx="139.0" cy="419.9" r="3.0" fill="#C8262C" stroke="#000" stroke-width="1.0"/>
<circle cx="139.8" cy="426.0" r="3.0" fill="#C8262C" stroke="#000" stroke-width="1.0"/>
<circle cx="146.5" cy="402.5" r="3.0" fill="#C8262C" stroke="#000" stroke-width="1.0"/>
<path d="M161.1,300.7L165.1,307.6L157.1,307.6Z" fill="#1B5596" stroke="#000" stroke-width="1.0"/>
<path d="M168.4,311.6L172.4,318.5L164.4,318.5Z" fill="#1B5596" stroke="#000" stroke-width="1.0"/>
<path d="M166.4,322.9L170.4,329.8L162.4,329.8Z" fill="#1B5596" stroke="#000" stroke-width="1.0"/>
<path d="M181.4,325.2L185.4,332.2L177.4,332.2Z" fill="#1B5596" stroke="#000" stroke-width="1.0"/>
<path d="M161.1,334.7L165.1,341.6L157.1,341.6Z" fill="#1B5596" stroke="#000" stroke-width="1.0"/>
<path d="M166.0,334.9L170.0,341.8L162.0,341.8Z" fill="#1B5596" stroke="#000" stroke-width="1.0"/>
<path d="M161.5,341.8L165.5,348.7L157.5,348.7Z" fill="#1B5596" stroke="#000" stroke-width="1.0"/>
<path d="M180.2,343.7L184.2,350.6L176.2,350.6Z" fill="#1B5596" stroke="#000" stroke-width="1.0"/>
<path d="M161.9,348.7L165.9,355.6L157.9,355.6Z" fill="#1B5596" stroke="#000" stroke-width="1.0"/>
<path d="M172.9,349.2L176.9,356.2L168.9,356.2Z" fill="#1B5596" stroke="#000" stroke-width="1.0"/>
<path d="M156.2,354.5L160.2,361.4L152.2,361.4Z" fill="#1B5596" stroke="#000" stroke-width="1.0"/>
<path d="M165.2,354.2L169.2,361.1L161.2,361.1Z" fill="#1B5596" stroke="#000" stroke-width="1.0"/>
<path d="M170.0,355.8L174.0,362.7L166.0,362.7Z" fill="#1B5596" stroke="#000" stroke-width="1.0"/>
<path d="M183.1,354.2L187.1,361.1L179.1,361.1Z" fill="#1B5596" stroke="#000" stroke-width="1.0"/>
<path d="M153.8,362.9L157.8,369.8L149.8,369.8Z" fill="#1B5596" stroke="#000" stroke-width="1.0"/>
<path d="M159.1,365.1L163.1,372.0L155.1,372.0Z" fill="#1B5596" stroke="#000" stroke-width="1.0"/>
<path d="M169.2,366.6L173.2,373.5L165.2,373.5Z" fill="#1B5596" stroke="#000" stroke-width="1.0"/>
<path d="M167.2,369.6L171.2,376.5L163.2,376.5Z" fill="#1B5596" stroke="#000" stroke-width="1.0"/>
<path d="M172.1,370.0L176.1,376.9L168.1,376.9Z" fill="#1B5596" stroke="#000" stroke-width="1.0"/>
<path d="M175.7,369.4L179.7,376.3L171.7,376.3Z" fill="#1B5596" stroke="#000" stroke-width="1.0"/>
<path d="M182.6,364.6L186.6,371.5L178.6,371.5Z" fill="#1B5596" stroke="#000" stroke-width="1.0"/>
<path d="M182.2,373.9L186.2,380.8L178.2,380.8Z" fill="#1B5596" stroke="#000" stroke-width="1.0"/>
<path d="M154.6,373.1L158.6,380.0L150.6,380.0Z" fill="#1B5596" stroke="#000" stroke-width="1.0"/>
<path d="M158.7,375.7L162.7,382.6L154.7,382.6Z" fill="#1B5596" stroke="#000" stroke-width="1.0"/>
<path d="M164.4,376.7L168.4,383.6L160.4,383.6Z" fill="#1B5596" stroke="#000" stroke-width="1.0"/>
<path d="M157.5,382.9L161.5,389.8L153.5,389.8Z" fill="#1B5596" stroke="#000" stroke-width="1.0"/>
<path d="M157.1,393.0L161.1,399.9L153.1,399.9Z" fill="#1B5596" stroke="#000" stroke-width="1.0"/>
<path d="M165.2,391.4L169.2,398.3L161.2,398.3Z" fill="#1B5596" stroke="#000" stroke-width="1.0"/>
<path d="M156.7,398.1L160.7,405.0L152.7,405.0Z" fill="#1B5596" stroke="#000" stroke-width="1.0"/>
<path d="M163.7,358.0L167.7,364.9L159.7,364.9Z" fill="#1B5596" stroke="#000" stroke-width="1.0"/>
<path d="M158.0,358.1L162.0,365.0L154.0,365.0Z" fill="#1B5596" stroke="#000" stroke-width="1.0"/>
<path d="M162.5,369.2L166.5,376.2L158.5,376.2Z" fill="#1B5596" stroke="#000" stroke-width="1.0"/>
<rect x="60.5" y="268.5" width="175.0" height="176.5" fill="none" stroke="#000" stroke-width="2"/>
<line x1="61.19999999999999" y1="445" x2="61.19999999999999" y2="449" stroke="#555" stroke-width="0.9"/>
<text x="61.19999999999999" y="461" font-size="9" font-weight="bold" text-anchor="middle" fill="#000" >-6</text>
<line x1="85.69999999999999" y1="445" x2="85.69999999999999" y2="449" stroke="#555" stroke-width="0.9"/>
<text x="85.69999999999999" y="461" font-size="9" font-weight="bold" text-anchor="middle" fill="#000" >-4</text>
<line x1="110.19999999999999" y1="445" x2="110.19999999999999" y2="449" stroke="#555" stroke-width="0.9"/>
<text x="110.19999999999999" y="461" font-size="9" font-weight="bold" text-anchor="middle" fill="#000" >-2</text>
<line x1="134.7" y1="445" x2="134.7" y2="449" stroke="#555" stroke-width="0.9"/>
<text x="134.7" y="461" font-size="9" font-weight="bold" text-anchor="middle" fill="#000" >0</text>
<line x1="159.2" y1="445" x2="159.2" y2="449" stroke="#555" stroke-width="0.9"/>
<text x="159.2" y="461" font-size="9" font-weight="bold" text-anchor="middle" fill="#000" >2</text>
<line x1="183.7" y1="445" x2="183.7" y2="449" stroke="#555" stroke-width="0.9"/>
<text x="183.7" y="461" font-size="9" font-weight="bold" text-anchor="middle" fill="#000" >4</text>
<line x1="208.2" y1="445" x2="208.2" y2="449" stroke="#555" stroke-width="0.9"/>
<text x="208.2" y="461" font-size="9" font-weight="bold" text-anchor="middle" fill="#000" >6</text>
<line x1="232.7" y1="445" x2="232.7" y2="449" stroke="#555" stroke-width="0.9"/>
<text x="232.7" y="461" font-size="9" font-weight="bold" text-anchor="middle" fill="#000" >8</text>
<line x1="56.5" y1="435.24" x2="60.5" y2="435.24" stroke="#555" stroke-width="0.9"/>
<text transform="translate(48.5,435.24) rotate(-90) scale(1,1.1)" font-size="9" font-weight="bold" text-anchor="middle">-6</text>
<line x1="56.5" y1="411.26" x2="60.5" y2="411.26" stroke="#555" stroke-width="0.9"/>
<text transform="translate(48.5,411.26) rotate(-90) scale(1,1.1)" font-size="9" font-weight="bold" text-anchor="middle">-4</text>
<line x1="56.5" y1="387.28000000000003" x2="60.5" y2="387.28000000000003" stroke="#555" stroke-width="0.9"/>
<text transform="translate(48.5,387.28) rotate(-90) scale(1,1.1)" font-size="9" font-weight="bold" text-anchor="middle">-2</text>
<line x1="56.5" y1="363.3" x2="60.5" y2="363.3" stroke="#555" stroke-width="0.9"/>
<text transform="translate(48.5,363.30) rotate(-90) scale(1,1.1)" font-size="9" font-weight="bold" text-anchor="middle">0</text>
<line x1="56.5" y1="339.32" x2="60.5" y2="339.32" stroke="#555" stroke-width="0.9"/>
<text transform="translate(48.5,339.32) rotate(-90) scale(1,1.1)" font-size="9" font-weight="bold" text-anchor="middle">2</text>
<line x1="56.5" y1="315.34000000000003" x2="60.5" y2="315.34000000000003" stroke="#555" stroke-width="0.9"/>
<text transform="translate(48.5,315.34) rotate(-90) scale(1,1.1)" font-size="9" font-weight="bold" text-anchor="middle">4</text>
<line x1="56.5" y1="291.36" x2="60.5" y2="291.36" stroke="#555" stroke-width="0.9"/>
<text transform="translate(48.5,291.36) rotate(-90) scale(1,1.1)" font-size="9" font-weight="bold" text-anchor="middle">6</text>
<text x="146" y="259.5" font-size="10.8" font-weight="bold" text-anchor="middle" fill="#000" >CCA</text>
<text transform="translate(31,356.7) rotate(-90)" font-size="10.5" font-weight="bold" text-anchor="middle" fill="#000" >CCA2 (1%)</text>
<text transform="translate(4.8,272.2) scale(0.86,1)" font-size="18" font-weight="bold">C</text>
<line x1="441.5" y1="267.3" x2="441.5" y2="445.7" stroke="#aaa" stroke-width="0.8" stroke-dasharray="1,1.5"/>
<line x1="400.5" y1="358.7" x2="573.3" y2="358.7" stroke="#aaa" stroke-width="0.8" stroke-dasharray="1,1.5"/>
<path d="M436.1,364.3L448.0,354.7L452.6,351.5L545.8,344.7L455.5,367.0Z" fill="#B8242B" fill-opacity="0.14" stroke="#222" stroke-width="1.1" stroke-dasharray="4,3"/>
<path d="M412.3,352.4L434.3,343.7L458.1,345.1L472.8,346.0L489.3,347.4L498.0,348.3L451.2,368.9L432.4,363.8L419.2,357.9Z" fill="#6A4C8C" fill-opacity="0.15" stroke="#222" stroke-width="1.1" stroke-dasharray="4,3"/>
<rect x="433.4" y="361.6" width="5.316" height="5.316" fill="#C8262C" stroke="#000" stroke-width="1.0"/>
<rect x="440.7" y="359.7" width="5.316" height="5.316" fill="#C8262C" stroke="#000" stroke-width="1.0"/>
<circle cx="412.3" cy="352.4" r="3.0" fill="#1B5596" stroke="#000" stroke-width="1.35"/>
<circle cx="419.2" cy="357.9" r="3.0" fill="#1B5596" stroke="#000" stroke-width="1.35"/>
<circle cx="425.6" cy="352.8" r="3.0" fill="#1B5596" stroke="#000" stroke-width="1.35"/>
<circle cx="434.3" cy="343.7" r="3.0" fill="#1B5596" stroke="#000" stroke-width="1.35"/>
<circle cx="435.6" cy="347.8" r="3.0" fill="#1B5596" stroke="#000" stroke-width="1.35"/>
<circle cx="443.4" cy="346.0" r="3.0" fill="#1B5596" stroke="#000" stroke-width="1.35"/>
<circle cx="447.5" cy="350.1" r="3.0" fill="#1B5596" stroke="#000" stroke-width="1.35"/>
<circle cx="442.5" cy="351.9" r="3.0" fill="#1B5596" stroke="#000" stroke-width="1.35"/>
<circle cx="437.5" cy="353.3" r="3.0" fill="#1B5596" stroke="#000" stroke-width="1.35"/>
<circle cx="431.5" cy="351.0" r="3.0" fill="#1B5596" stroke="#000" stroke-width="1.35"/>
<circle cx="422.8" cy="352.8" r="3.0" fill="#1B5596" stroke="#000" stroke-width="1.35"/>
<circle cx="427.4" cy="361.5" r="3.0" fill="#1B5596" stroke="#000" stroke-width="1.35"/>
<circle cx="432.4" cy="363.8" r="3.0" fill="#1B5596" stroke="#000" stroke-width="1.35"/>
<circle cx="443.4" cy="366.1" r="3.0" fill="#1B5596" stroke="#000" stroke-width="1.35"/>
<circle cx="451.2" cy="368.9" r="3.0" fill="#1B5596" stroke="#000" stroke-width="1.35"/>
<circle cx="448.9" cy="364.3" r="3.0" fill="#1B5596" stroke="#000" stroke-width="1.35"/>
<circle cx="432.4" cy="356.0" r="3.0" fill="#1B5596" stroke="#000" stroke-width="1.35"/>
<circle cx="439.3" cy="359.2" r="3.0" fill="#1B5596" stroke="#000" stroke-width="1.35"/>
<circle cx="425.1" cy="357.9" r="3.0" fill="#1B5596" stroke="#000" stroke-width="1.35"/>
<circle cx="456.2" cy="347.8" r="3.0" fill="#1B5596" stroke="#000" stroke-width="1.35"/>
<circle cx="458.5" cy="356.5" r="3.0" fill="#1B5596" stroke="#000" stroke-width="1.35"/>
<circle cx="458.1" cy="345.1" r="3.0" fill="#1B5596" stroke="#000" stroke-width="1.35"/>
<circle cx="459.1" cy="347.4" r="3.0" fill="#1B5596" stroke="#000" stroke-width="1.35"/>
<circle cx="455.9" cy="349.6" r="3.0" fill="#1B5596" stroke="#000" stroke-width="1.35"/>
<circle cx="459.1" cy="356.5" r="3.0" fill="#1B5596" stroke="#000" stroke-width="1.35"/>
<circle cx="466.0" cy="362.0" r="3.0" fill="#1B5596" stroke="#000" stroke-width="1.35"/>
<circle cx="468.7" cy="346.0" r="3.0" fill="#1B5596" stroke="#000" stroke-width="1.35"/>
<circle cx="472.8" cy="346.0" r="3.0" fill="#1B5596" stroke="#000" stroke-width="1.35"/>
<circle cx="468.3" cy="351.0" r="3.0" fill="#1B5596" stroke="#000" stroke-width="1.35"/>
<circle cx="489.3" cy="347.4" r="3.0" fill="#1B5596" stroke="#000" stroke-width="1.35"/>
<circle cx="498.0" cy="348.3" r="3.0" fill="#1B5596" stroke="#000" stroke-width="1.35"/>
<circle cx="454.9" cy="356.1" r="3.0" fill="#1B5596" stroke="#000" stroke-width="1.35"/>
<circle cx="444.5" cy="357.3" r="3.0" fill="#1B5596" stroke="#000" stroke-width="1.35"/>
<circle cx="452.4" cy="346.3" r="3.0" fill="#1B5596" stroke="#000" stroke-width="1.35"/>
<circle cx="438.7" cy="345.5" r="3.0" fill="#1B5596" stroke="#000" stroke-width="1.35"/>
<circle cx="425.0" cy="349.1" r="3.0" fill="#1B5596" stroke="#000" stroke-width="1.35"/>
<circle cx="440.7" cy="363.6" r="3.0" fill="#1B5596" stroke="#000" stroke-width="1.35"/>
<circle cx="447.1" cy="354.1" r="3.0" fill="#1B5596" stroke="#000" stroke-width="1.35"/>
<circle cx="419.1" cy="354.0" r="3.0" fill="#1B5596" stroke="#000" stroke-width="1.35"/>
<circle cx="447.2" cy="360.2" r="3.0" fill="#1B5596" stroke="#000" stroke-width="1.35"/>
<circle cx="434.2" cy="359.6" r="3.0" fill="#1B5596" stroke="#000" stroke-width="1.35"/>
<circle cx="450.6" cy="356.1" r="3.0" fill="#1B5596" stroke="#000" stroke-width="1.35"/>
<circle cx="452.8" cy="363.7" r="3.0" fill="#1B5596" stroke="#000" stroke-width="1.35"/>
<circle cx="451.9" cy="350.9" r="3.0" fill="#1B5596" stroke="#000" stroke-width="1.35"/>
<circle cx="428.7" cy="357.6" r="3.0" fill="#1B5596" stroke="#000" stroke-width="1.35"/>
<circle cx="436.8" cy="364.7" r="3.0" fill="#1B5596" stroke="#000" stroke-width="1.35"/>
<circle cx="447.6" cy="345.5" r="3.0" fill="#1B5596" stroke="#000" stroke-width="1.35"/>
<circle cx="452.4" cy="359.7" r="3.0" fill="#1B5596" stroke="#000" stroke-width="1.35"/>
<circle cx="431.4" cy="347.3" r="3.0" fill="#1B5596" stroke="#000" stroke-width="1.35"/>
<circle cx="444.0" cy="362.1" r="3.0" fill="#1B5596" stroke="#000" stroke-width="1.35"/>
<circle cx="447.2" cy="367.5" r="3.0" fill="#1B5596" stroke="#000" stroke-width="1.35"/>
<circle cx="441.1" cy="355.7" r="3.0" fill="#1B5596" stroke="#000" stroke-width="1.35"/>
<circle cx="439.3" cy="349.6" r="3.0" fill="#1B5596" stroke="#000" stroke-width="1.35"/>
<circle cx="427.8" cy="346.5" r="3.0" fill="#1B5596" stroke="#000" stroke-width="1.35"/>
<circle cx="429.4" cy="353.9" r="3.0" fill="#1B5596" stroke="#000" stroke-width="1.35"/>
<rect x="450.8" y="363.9" width="5.316" height="5.316" fill="#C8262C" stroke="#000" stroke-width="1.0"/>
<rect x="451.7" y="359.3" width="5.316" height="5.316" fill="#C8262C" stroke="#000" stroke-width="1.0"/>
<rect x="445.3" y="352.0" width="5.316" height="5.316" fill="#C8262C" stroke="#000" stroke-width="1.0"/>
<rect x="449.9" y="348.8" width="5.316" height="5.316" fill="#C8262C" stroke="#000" stroke-width="1.0"/>
<rect x="458.3" y="359.3" width="5.316" height="5.316" fill="#C8262C" stroke="#000" stroke-width="1.0"/>
<rect x="452.8" y="359.7" width="5.316" height="5.316" fill="#C8262C" stroke="#000" stroke-width="1.0"/>
<rect x="452.8" y="364.3" width="5.316" height="5.316" fill="#C8262C" stroke="#000" stroke-width="1.0"/>
<rect x="471.1" y="349.2" width="5.316" height="5.316" fill="#C8262C" stroke="#000" stroke-width="1.0"/>
<rect x="471.5" y="355.2" width="5.316" height="5.316" fill="#C8262C" stroke="#000" stroke-width="1.0"/>
<rect x="488.4" y="349.2" width="5.316" height="5.316" fill="#C8262C" stroke="#000" stroke-width="1.0"/>
<rect x="500.8" y="346.0" width="5.316" height="5.316" fill="#C8262C" stroke="#000" stroke-width="1.0"/>
<rect x="543.1" y="342.0" width="5.316" height="5.316" fill="#C8262C" stroke="#000" stroke-width="1.0"/>
<rect x="400.5" y="267.3" width="172.79999999999995" height="178.39999999999998" fill="none" stroke="#000" stroke-width="2"/>
<line x1="414.0" y1="445.7" x2="414.0" y2="449.7" stroke="#555" stroke-width="0.9"/>
<text x="414.0" y="461.6" font-size="9" font-weight="bold" text-anchor="middle" fill="#000" >-5</text>
<line x1="441.5" y1="445.7" x2="441.5" y2="449.7" stroke="#555" stroke-width="0.9"/>
<text x="441.5" y="461.6" font-size="9" font-weight="bold" text-anchor="middle" fill="#000" >0</text>
<line x1="469.0" y1="445.7" x2="469.0" y2="449.7" stroke="#555" stroke-width="0.9"/>
<text x="469.0" y="461.6" font-size="9" font-weight="bold" text-anchor="middle" fill="#000" >5</text>
<line x1="496.5" y1="445.7" x2="496.5" y2="449.7" stroke="#555" stroke-width="0.9"/>
<text x="496.5" y="461.6" font-size="9" font-weight="bold" text-anchor="middle" fill="#000" >10</text>
<line x1="524.0" y1="445.7" x2="524.0" y2="449.7" stroke="#555" stroke-width="0.9"/>
<text x="524.0" y="461.6" font-size="9" font-weight="bold" text-anchor="middle" fill="#000" >15</text>
<line x1="551.5" y1="445.7" x2="551.5" y2="449.7" stroke="#555" stroke-width="0.9"/>
<text x="551.5" y="461.6" font-size="9" font-weight="bold" text-anchor="middle" fill="#000" >20</text>
<line x1="396.5" y1="441.34999999999997" x2="400.5" y2="441.34999999999997" stroke="#555" stroke-width="0.9"/>
<text transform="translate(388.5,441.35) rotate(-90) scale(1,1.1)" font-size="9" font-weight="bold" text-anchor="middle">-15</text>
<line x1="396.5" y1="413.79999999999995" x2="400.5" y2="413.79999999999995" stroke="#555" stroke-width="0.9"/>
<text transform="translate(388.5,413.80) rotate(-90) scale(1,1.1)" font-size="9" font-weight="bold" text-anchor="middle">-10</text>
<line x1="396.5" y1="386.25" x2="400.5" y2="386.25" stroke="#555" stroke-width="0.9"/>
<text transform="translate(388.5,386.25) rotate(-90) scale(1,1.1)" font-size="9" font-weight="bold" text-anchor="middle">-5</text>
<line x1="396.5" y1="358.7" x2="400.5" y2="358.7" stroke="#555" stroke-width="0.9"/>
<text transform="translate(388.5,358.70) rotate(-90) scale(1,1.1)" font-size="9" font-weight="bold" text-anchor="middle">0</text>
<line x1="396.5" y1="331.15" x2="400.5" y2="331.15" stroke="#555" stroke-width="0.9"/>
<text transform="translate(388.5,331.15) rotate(-90) scale(1,1.1)" font-size="9" font-weight="bold" text-anchor="middle">5</text>
<line x1="396.5" y1="303.6" x2="400.5" y2="303.6" stroke="#555" stroke-width="0.9"/>
<text transform="translate(388.5,303.60) rotate(-90) scale(1,1.1)" font-size="9" font-weight="bold" text-anchor="middle">10</text>
<line x1="396.5" y1="276.05" x2="400.5" y2="276.05" stroke="#555" stroke-width="0.9"/>
<text transform="translate(388.5,276.05) rotate(-90) scale(1,1.1)" font-size="9" font-weight="bold" text-anchor="middle">15</text>
<text x="485.5" y="258.5" font-size="10.8" font-weight="bold" text-anchor="middle" fill="#000" >CCA</text>
<text transform="translate(371,356.7) rotate(-90)" font-size="10.5" font-weight="bold" text-anchor="middle" fill="#000" >CA1 (12%)</text>
<text transform="translate(351.2,271.8) scale(0.86,1)" font-size="18" font-weight="bold">D</text>
<rect x="241.2" y="20.2" width="60.80000000000001" height="50.8" fill="#fff" stroke="#000" stroke-width="2"/>
<circle cx="248.0" cy="31.0" r="2.6" fill="#C8262C" stroke="#000" stroke-width="0.8"/>
<text x="257" y="34" font-size="9" font-weight="bold" text-anchor="start" fill="#000" >Week 1</text>
<rect x="245.7" y="38.3" width="4.607200000000001" height="4.607200000000001" fill="#A8A8A8" stroke="#000" stroke-width="0.8"/>
<text x="257" y="44" font-size="9" font-weight="bold" text-anchor="start" fill="#000" >Week 4</text>
<path d="M248.0,47.4L251.3,50.7L248.0,54.0L244.7,50.7Z" fill="#F2A100" stroke="#000" stroke-width="0.8"/>
<text x="257" y="54" font-size="9" font-weight="bold" text-anchor="start" fill="#000" >Week 8</text>
<path d="M248.2,57.5L251.7,63.5L244.7,63.5Z" fill="#1B5596" stroke="#000" stroke-width="0.8"/>
<text x="257" y="65" font-size="9" font-weight="bold" text-anchor="start" fill="#000" >Week 24</text>
<rect x="243.9" y="269.7" width="60.599999999999994" height="51.400000000000034" fill="#fff" stroke="#000" stroke-width="2"/>
<circle cx="250.2" cy="280.3" r="2.6" fill="#C8262C" stroke="#000" stroke-width="0.8"/>
<text x="259.2" y="283.3" font-size="9" font-weight="bold" text-anchor="start" fill="#000" >Week 1</text>
<rect x="247.9" y="287.9" width="4.607200000000001" height="4.607200000000001" fill="#A8A8A8" stroke="#000" stroke-width="0.8"/>
<text x="259.2" y="293.3" font-size="9" font-weight="bold" text-anchor="start" fill="#000" >Week 4</text>
<path d="M250.2,296.9L253.5,300.2L250.2,303.5L246.9,300.2Z" fill="#F2A100" stroke="#000" stroke-width="0.8"/>
<text x="259.2" y="302.7" font-size="9" font-weight="bold" text-anchor="start" fill="#000" >Week 8</text>
<path d="M250.4,308.0L253.9,314.0L246.9,314.0Z" fill="#1B5596" stroke="#000" stroke-width="0.8"/>
<text x="259.2" y="314.7" font-size="9" font-weight="bold" text-anchor="start" fill="#000" >Week 24</text>
<rect x="580.6" y="22.8" width="77.79999999999995" height="39.099999999999994" fill="#fff" stroke="#000" stroke-width="1.6"/>
<rect x="587.7" y="33.1" width="5.316" height="5.316" fill="#C8262C" stroke="#000" stroke-width="0.8"/>
<text x="600.5" y="39.6" font-size="10.8" font-weight="bold" text-anchor="start" fill="#000" >C-section</text>
<circle cx="590.4" cy="49.2" r="3.0" fill="#1B5596" stroke="#000" stroke-width="0.8"/>
<text x="600.5" y="52.6" font-size="10.8" font-weight="bold" text-anchor="start" fill="#000" >Vaginal</text>
<rect x="588.8" y="270.9" width="77.60000000000002" height="38.80000000000001" fill="#fff" stroke="#000" stroke-width="1.6"/>
<rect x="595.3" y="281.0" width="5.316" height="5.316" fill="#C8262C" stroke="#000" stroke-width="0.8"/>
<text x="608.4" y="287.7" font-size="10.8" font-weight="bold" text-anchor="start" fill="#000" >C-section</text>
<circle cx="598.0" cy="297.2" r="3.0" fill="#1B5596" stroke="#000" stroke-width="0.8"/>
<text x="608.4" y="300.6" font-size="10.8" font-weight="bold" text-anchor="start" fill="#000" >Vaginal</text>
<text x="127.4" y="231.7" font-size="10.8" font-weight="bold" text-anchor="end" fill="#000" >Variance</text>
<text x="160" y="231.7" font-size="10.5" font-weight="bold" text-anchor="end" fill="#000" >F</text>
<text x="200.4" y="231.7" font-size="10.5" font-weight="bold" text-anchor="end" fill="#000" >P</text>
<text x="239" y="231.7" font-size="10.5" font-weight="bold" text-anchor="end" fill="#000" >Signif</text>
<text x="44.7" y="244.2" font-size="10.5" font-weight="bold" text-anchor="start" fill="#000" >Week</text>
<text x="127.4" y="244.2" font-size="10.5" font-weight="normal" text-anchor="end" fill="#222" >18.96</text>
<text x="160" y="244.2" font-size="10.5" font-weight="normal" text-anchor="end" fill="#222" >6.96</text>
<text x="200" y="244.2" font-size="10.5" font-weight="normal" text-anchor="end" fill="#222" >0.001</text>
<text x="239.5" y="244.2" font-size="10.5" font-weight="normal" text-anchor="end" fill="#222" >***</text>
<text x="475.7" y="228" font-size="10.8" font-weight="bold" text-anchor="end" fill="#000" >Variance</text>
<text x="508.4" y="228" font-size="10.5" font-weight="bold" text-anchor="end" fill="#000" >F</text>
<text x="547.6" y="228" font-size="10.5" font-weight="bold" text-anchor="end" fill="#000" >P</text>
<text x="587.5" y="228" font-size="10.5" font-weight="bold" text-anchor="end" fill="#000" >Signif</text>
<text x="366.5" y="239.9" font-size="10.5" font-weight="bold" text-anchor="start" fill="#000" >Birth.Mode</text>
<text x="475.7" y="239.9" font-size="10.5" font-weight="normal" text-anchor="end" fill="#222" >1.34</text>
<text x="508.4" y="239.9" font-size="10.5" font-weight="normal" text-anchor="end" fill="#222" >1.36</text>
<text x="547.6" y="239.9" font-size="10.5" font-weight="normal" text-anchor="end" fill="#222" >0.105</text>
<text x="133" y="479.2" font-size="10" font-weight="bold" text-anchor="end" fill="#000" >ChiSquare</text>
<text x="163.4" y="479.2" font-size="10" font-weight="bold" text-anchor="end" fill="#000" >F</text>
<text x="201.8" y="479.2" font-size="10" font-weight="bold" text-anchor="end" fill="#000" >P</text>
<text x="239" y="479.2" font-size="10" font-weight="bold" text-anchor="end" fill="#000" >Signif</text>
<text x="47" y="490" font-size="10" font-weight="bold" text-anchor="start" fill="#000" >Week</text>
<text x="132.7" y="490" font-size="10" font-weight="normal" text-anchor="end" fill="#222" >0.12</text>
<text x="163" y="490" font-size="10" font-weight="normal" text-anchor="end" fill="#222" >6.15</text>
<text x="201.2" y="490" font-size="10" font-weight="normal" text-anchor="end" fill="#222" >0.001</text>
<text x="238.5" y="488" font-size="9" font-weight="normal" text-anchor="end" fill="#222" >***</text>
<text x="494.3" y="479.5" font-size="9.3" font-weight="bold" text-anchor="end" fill="#000" >ChiSquare</text>
<text x="518.3" y="479.5" font-size="9.3" font-weight="bold" text-anchor="end" fill="#000" >F</text>
<text x="547.8" y="479.5" font-size="9.3" font-weight="bold" text-anchor="end" fill="#000" >P</text>
<text x="583" y="479.5" font-size="9.3" font-weight="bold" text-anchor="end" fill="#000" >Signif</text>
<text x="390.3" y="490.3" font-size="9.3" font-weight="bold" text-anchor="start" fill="#000" >Birth.Mode</text>
<text x="494.3" y="490.3" font-size="9.3" font-weight="normal" text-anchor="end" fill="#222" >0.01</text>
<text x="518.3" y="490.3" font-size="9.3" font-weight="normal" text-anchor="end" fill="#222" >1.2</text>
<text x="547" y="490.3" font-size="9.3" font-weight="normal" text-anchor="end" fill="#222" >0.11</text>
</svg>
</body></html>
